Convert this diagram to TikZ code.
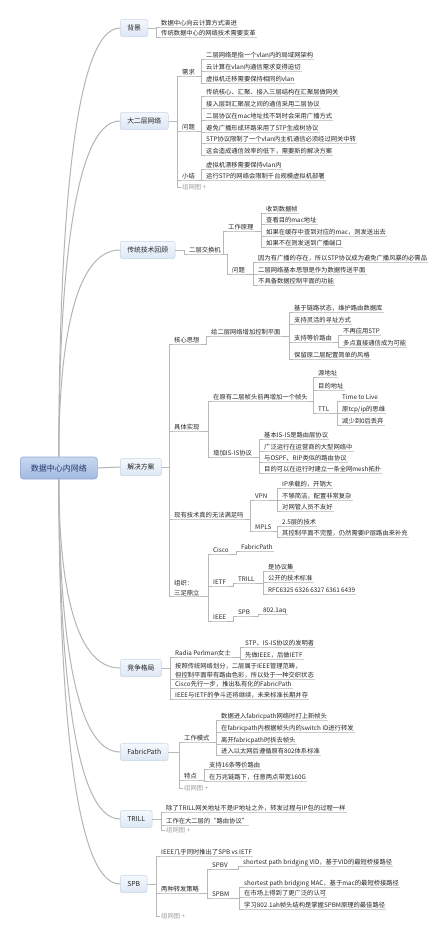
\documentclass[tikz,border=0pt]{standalone}
\usepackage{fontspec}
\setmainfont{Noto Sans CJK SC}
\definecolor{txt}{HTML}{262626}
\definecolor{lc}{HTML}{B8B8B8}
\definecolor{lc2}{HTML}{B5B5B5}
\definecolor{ulc}{HTML}{CCCCCC}
\definecolor{rootd}{HTML}{8FA9D6}
\definecolor{roott}{HTML}{C9D8F0}
\definecolor{rootb}{HTML}{A2BAE0}
\definecolor{brd}{HTML}{C6D4EA}
\definecolor{brt}{HTML}{F4F8FD}
\definecolor{brb}{HTML}{DDE7F5}
\definecolor{navy}{HTML}{22386A}
\tikzset{
  lfbase/.style={font=\fontsize{6.3}{9.5}\selectfont, text=txt, inner xsep=1pt, inner ysep=0.8pt, anchor=west},
  lf/.style={lfbase, text height=5.4pt, text depth=1.3pt,
    append after command={(\tikzlastnode.south west) edge[ulin] (\tikzlastnode.south east)}},
  lfm/.style={lfbase, align=left,
    append after command={(\tikzlastnode.south west) edge[ulin] (\tikzlastnode.south east)}},
  phd/.style={lfbase, text height=5.4pt, text depth=1.3pt, text=gray!75},
  ulin/.style={draw=ulc, line width=0.4pt},
  cn/.style={draw=lc, line width=0.45pt},
  mcurve/.style={draw=lc2, line width=1pt},
  brbox/.style={draw=brd, top color=brt, bottom color=brb, rounded corners=2pt, line width=0.5pt,
    font=\fontsize{6.8}{8}\selectfont, text=txt, inner xsep=7pt, minimum height=17pt, anchor=west},
  rootbox/.style={draw=rootd, top color=roott, bottom color=rootb, rounded corners=3pt, line width=0.6pt,
    font=\fontsize{8}{9}\selectfont, text=navy, minimum width=77pt, minimum height=22pt, anchor=west},
}
\newcommand\lk[3][south west]{\draw[cn] (#2.south east) -- ([xshift=-4pt]#3.#1 |- #2.south east) -- ([xshift=-4pt]#3.#1) -- (#3.#1);}
\newcommand\lkb[3][south west]{\draw[cn] (#2.east) -- ([xshift=-4pt]#3.#1 |- #2.east) -- ([xshift=-4pt]#3.#1) -- (#3.#1);}
\begin{document}
\begin{tikzpicture}[x=1pt,y=-1pt]
\useasboundingbox[fill=white] (0,0) rectangle (443,939);

% root and main branches
\node[rootbox] (root) at (20,468) {数据中心内网络};
\node[brbox] (bj) at (120,28) {背景};
\node[brbox] (de) at (120,121) {大二层网络};
\node[brbox] (ct) at (120,250) {传统技术回顾};
\node[brbox] (jj) at (120,467) {解决方案};
\node[brbox] (jz) at (120,668) {竞争格局};
\node[brbox] (fp) at (120,752) {FabricPath};
\node[brbox] (tr) at (120,819) {TRILL};
\node[brbox] (sp) at (120,884) {SPB};

\draw[mcurve] (root.north) .. controls (59,243) and (72,28) .. (bj.west);
\draw[mcurve] (root.north) .. controls (59,290) and (72,121) .. (de.west);
\draw[mcurve] (root.north) .. controls (59,354) and (72,250) .. (ct.west);
\draw[mcurve] (root.east) -- (jj.west);
\draw[mcurve] (root.south) .. controls (59,574) and (72,668) .. (jz.west);
\draw[mcurve] (root.south) .. controls (59,616) and (72,752) .. (fp.west);
\draw[mcurve] (root.south) .. controls (59,650) and (72,819) .. (tr.west);
\draw[mcurve] (root.south) .. controls (59,682) and (72,884) .. (sp.west);

% 背景
\node[lf] (bj1) at (160,23) {数据中心向云计算方式演进};
\node[lf] (bj2) at (160,33) {传统数据中心的网络技术需要变革};
\lkb{bj}{bj1} \lkb{bj}{bj2}

% 大二层网络
\node[lf] (xq) at (181,72) {需求};
\node[lf] (xq1) at (205,55) {二层网络是指一个vlan内的局域网架构};
\node[lf] (xq2) at (205,67) {云计算在vlan内通信需求变得迫切};
\node[lf] (xq3) at (205,79) {虚拟机迁移需要保持相同的vlan};
\node[lf] (wt) at (181,127) {问题};
\node[lf] (wt1) at (205,92) {传统核心、汇聚、接入三层结构在汇聚层做网关};
\node[lf] (wt2) at (205,104) {接入层到汇聚层之间的通信采用二层协议};
\node[lf] (wt3) at (205,116) {二层协议在mac地址找不到时会采用广播方式};
\node[lf] (wt4) at (205,128) {避免广播形成环路采用了STP生成树协议};
\node[lf] (wt5) at (205,139) {STP协议限制了一个vlan内主机通信必须经过网关中转};
\node[lf] (wt6) at (205,151) {这会造成通信效率的低下，需要新的解决方案};
\node[lf] (xj) at (181,176) {小结};
\node[lf] (xj1) at (205,165) {虚拟机漂移需要保持vlan内};
\node[lf] (xj2) at (205,176) {运行STP的网络会限制千台规模虚拟机部署};
\node[phd] (zw1) at (181,187) {组网图 +};
\lkb{de}{xq} \lkb{de}{wt} \lkb{de}{xj} \lkb[west]{de}{zw1}
\lk{xq}{xq1} \lk{xq}{xq2} \lk{xq}{xq3}
\lk{wt}{wt1} \lk{wt}{wt2} \lk{wt}{wt3} \lk{wt}{wt4} \lk{wt}{wt5} \lk{wt}{wt6}
\lk{xj}{xj1} \lk{xj}{xj2}

% 传统技术回顾
\node[lf] (jh) at (188,250) {二层交换机};
\node[lf] (gy) at (227,227) {工作原理};
\node[lf] (gy1) at (265,209) {收到数据帧};
\node[lf] (gy2) at (265,220) {查看目的mac地址};
\node[lf] (gy3) at (265,232) {如果在缓存中查到对应的mac，则发送出去};
\node[lf] (gy4) at (265,243) {如果不在则发送到广播端口};
\node[lf] (ctw) at (231,270) {问题};
\node[lf] (ctw1) at (257,258) {因为有广播的存在，所以STP协议成为避免广播风暴的必需品};
\node[lf] (ctw2) at (257,270) {二层网络基本思想是作为数据传送平面};
\node[lf] (ctw3) at (257,281) {不具备数据控制平面的功能};
\lkb{ct}{jh}
\lk{jh}{gy} \lk{jh}{ctw}
\lk{gy}{gy1} \lk{gy}{gy2} \lk{gy}{gy3} \lk{gy}{gy4}
\lk{ctw}{ctw1} \lk{ctw}{ctw2} \lk{ctw}{ctw3}

% 解决方案
\node[lf] (hx) at (173,340) {核心思想};
\node[lf] (hx0) at (210,332) {给二层网络增加控制平面};
\node[lf] (hx1) at (293,308) {基于链路状态，维护路由数据库};
\node[lf] (hx2) at (293,320) {支持灵活的寻址方式};
\node[lf] (hx3) at (293,338) {支持等价路由};
\node[lf] (hx31) at (342,331) {不再应用STP};
\node[lf] (hx32) at (342,343) {多点直接通信成为可能};
\node[lf] (hx4) at (293,355) {保留原二层配置简单的风格};
\node[lf] (js) at (173,427) {具体实现};
\node[lf] (zt) at (212,397) {在原有二层帧头前再增加一个帧头};
\node[lf] (zt1) at (317,373) {源地址};
\node[lf] (zt2) at (317,386) {目的地址};
\node[lf] (zt3) at (317,409) {TTL};
\node[lf] (zt31) at (341,397) {Time to Live};
\node[lf] (zt32) at (341,409) {原tcp/ip的思维};
\node[lf] (zt33) at (341,421) {减少到0后丢弃};
\node[lf] (isp) at (212,453) {增加IS-IS协议};
\node[lf] (is1) at (263,435) {基本IS-IS是路由层协议};
\node[lf] (is2) at (263,447) {广泛运行在运营商的大型网络中};
\node[lf] (is3) at (263,458) {与OSPF、RIP类似的路由协议};
\node[lf] (is4) at (263,469) {目的可以在运行时建立一条全网mesh拓扑};
\node[lf] (xy) at (173,515) {现有技术真的无法满足吗};
\node[lf] (vpn) at (254,496) {VPN};
\node[lf] (vpn1) at (281,484) {IP承载的，开销大};
\node[lf] (vpn2) at (281,496) {不够简洁，配置非常复杂};
\node[lf] (vpn3) at (281,507) {对网管人员不友好};
\node[lf] (mpls) at (254,527) {MPLS};
\node[lf] (mp1) at (281,522) {2.5层的技术};
\node[lf] (mp2) at (281,533) {其控制平面不完整，仍然需要IP层路由来补充};
\node[lfm] (zz) at (173,588) {组织：\\三足鼎立};
\node[lf] (cs) at (212,550) {Cisco};
\node[lf] (csf) at (240,547) {FabricPath};
\node[lf] (ie) at (212,582) {IETF};
\node[lf] (tl) at (237,579) {TRILL};
\node[lf] (tl1) at (267,567) {是协议集};
\node[lf] (tl2) at (267,578) {公开的技术标准};
\node[lf] (tl3) at (267,590) {RFC6325 6326 6327 6361 6439};
\node[lf] (ee) at (212,617) {IEEE};
\node[lf] (sb) at (237,612) {SPB};
\node[lf] (sb1) at (262,610) {802.1aq};
\lkb{jj}{hx} \lkb{jj}{js} \lkb{jj}{xy} \lkb{jj}{zz}
\lk{hx}{hx0}
\lk{hx0}{hx1} \lk{hx0}{hx2} \lk{hx0}{hx3} \lk{hx0}{hx4}
\lk{hx3}{hx31} \lk{hx3}{hx32}
\lk{js}{zt} \lk{js}{isp}
\lk{zt}{zt1} \lk{zt}{zt2} \lk{zt}{zt3}
\lk{zt3}{zt31} \lk{zt3}{zt32} \lk{zt3}{zt33}
\lk{isp}{is1} \lk{isp}{is2} \lk{isp}{is3} \lk{isp}{is4}
\lk{xy}{vpn} \lk{xy}{mpls}
\lk{vpn}{vpn1} \lk{vpn}{vpn2} \lk{vpn}{vpn3}
\lk{mpls}{mp1} \lk{mpls}{mp2}
\lk{zz}{cs} \lk{zz}{ie} \lk{zz}{ee}
\lk{cs}{csf}
\lk{ie}{tl}
\lk{tl}{tl1} \lk{tl}{tl2} \lk{tl}{tl3}
\lk{ee}{sb}
\lk{sb}{sb1}

% 竞争格局
\node[lf] (rp) at (174,653) {Radia Perlman女士};
\node[lf] (rp1) at (244,643) {STP、IS-IS协议的发明者};
\node[lf] (rp2) at (244,655) {先做IEEE，后做IETF};
\node[lfm] (jz2) at (174,670.5) {按照传统网络划分，二层属于IEEE管理范畴，\\但控制平面带有路由色彩，所以处于一种交织状态};
\node[lf] (jz3) at (174,684) {Cisco先行一步，推出私有化的FabricPath};
\node[lf] (jz4) at (174,695) {IEEE与IETF的争斗还将继续，未来标准长期并存};
\lkb{jz}{rp} \lkb{jz}{jz2} \lkb{jz}{jz3} \lkb{jz}{jz4}
\lk{rp}{rp1} \lk{rp}{rp2}

% FabricPath
\node[lf] (gm) at (183,738) {工作模式};
\node[lf] (gm1) at (220,716) {数据进入fabricpath网络时打上新帧头};
\node[lf] (gm2) at (220,728) {在fabricpath内根据帧头内的switch ID进行转发};
\node[lf] (gm3) at (220,740) {离开fabricpath时拆去帧头};
\node[lf] (gm4) at (220,751) {进入以太网后遵循原有802体系标准};
\node[lf] (td) at (183,776) {特点};
\node[lf] (td1) at (208,765) {支持16条等价路由};
\node[lf] (td2) at (208,777) {在万兆链路下，任意两点带宽160G};
\node[phd] (zw2) at (183,788) {组网图 +};
\lkb{fp}{gm} \lkb{fp}{td} \lkb[west]{fp}{zw2}
\lk{gm}{gm1} \lk{gm}{gm2} \lk{gm}{gm3} \lk{gm}{gm4}
\lk{td}{td1} \lk{td}{td2}

% TRILL
\node[lf] (tr1) at (165,808) {除了TRILL网关地址不是IP地址之外，转发过程与IP包的过程一样};
\node[lf] (tr2) at (165,821) {工作在大二层的“路由协议”};
\node[phd] (zw3) at (165,830) {组网图 +};
\lkb{tr}{tr1} \lkb{tr}{tr2} \lkb[west]{tr}{zw3}

% SPB
\node[lf] (sp1) at (160,852) {IEEE几乎同时推出了SPB vs IETF};
\node[lf] (sp2) at (160,889) {两种转发策略};
\node[lf] (spv) at (211,865) {SPBV};
\node[lf] (spv1) at (242,862) {shortest path bridging VID，基于VID的最短桥接路径};
\node[lf] (spm) at (211,894) {SPBM};
\node[lf] (spm1) at (243,883) {shortest path bridging MAC，基于mac的最短桥接路径};
\node[lf] (spm2) at (243,893) {在市场上得到了更广泛的认可};
\node[lf] (spm3) at (243,905) {学习802.1ah帧头结构是掌握SPBM原理的最佳路径};
\node[phd] (zw4) at (160,916) {组网图 +};
\lkb{sp}{sp1} \lkb{sp}{sp2} \lkb[west]{sp}{zw4}
\lk{sp2}{spv} \lk{sp2}{spm}
\lk{spv}{spv1}
\lk{spm}{spm1} \lk{spm}{spm2} \lk{spm}{spm3}
\end{tikzpicture}
\end{document}
